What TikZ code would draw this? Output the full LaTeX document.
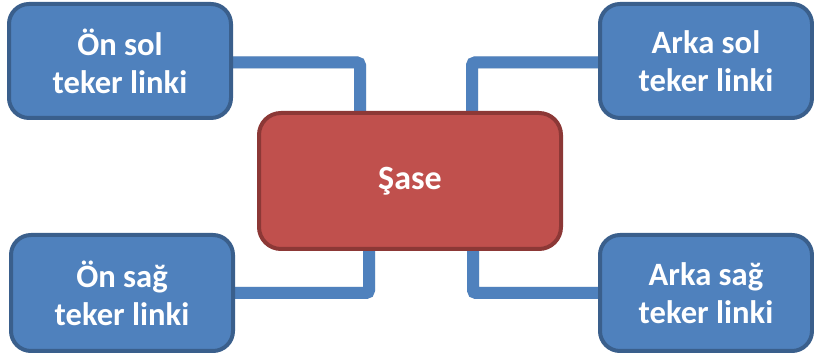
\documentclass[tikz,border=0pt]{standalone}
\usepackage{fontspec}
\setmainfont{Carlito}
\usetikzlibrary{backgrounds}
\definecolor{bfill}{HTML}{4F81BD}
\definecolor{bdraw}{HTML}{3A5F8C}
\definecolor{rfill}{HTML}{C0504D}
\definecolor{rdraw}{HTML}{8C3836}
\tikzset{
  wheel/.style={draw=bdraw, fill=bfill, line width=2pt, rounded corners=10pt,
    text=white, font=\bfseries\fontsize{16.3}{19}\selectfont, align=center, inner sep=0pt},
  chassisbox/.style={draw=rdraw, fill=rfill, line width=2pt, rounded corners=11pt,
    text=white, font=\bfseries\fontsize{17}{20}\selectfont, align=center, inner sep=0pt},
  conn/.style={draw=bfill, line width=6pt, rounded corners=1.5pt},
  connshadow/.style={draw=black!25, line width=6pt, rounded corners=1.5pt, opacity=0.5}
}
\begin{document}
\begin{tikzpicture}[x=0.5pt, y=-0.5pt]
\useasboundingbox (0,0) rectangle (814,356);
\node[wheel, minimum width=111pt, minimum height=57pt] (tl) at (120,61) {Ön sol\\teker linki};
\node[wheel, minimum width=106pt, minimum height=57pt] (tr) at (706,61) {Arka sol\\teker linki};
\node[wheel, minimum width=111pt, minimum height=58pt] (bl) at (122,293) {Ön sağ\\teker linki};
\node[wheel, minimum width=106pt, minimum height=58pt] (br) at (706,293) {Arka sağ\\teker linki};
\node[chassisbox, minimum width=151pt, minimum height=68pt] (ch) at (410,181) {Şase};
\begin{pgfonlayer}{background}
\begin{scope}[xshift=1pt, yshift=-1.2pt]
\draw[connshadow] ([yshift=-0.75pt]tl.east) -| ([xshift=-25pt]ch.north);
\draw[connshadow] ([yshift=-0.75pt]tr.west) -| ([xshift=31pt]ch.north);
\draw[connshadow] ([xshift=-20.5pt]ch.south) |- (bl.east);
\draw[connshadow] ([xshift=31.5pt]ch.south) |- (br.west);
\end{scope}
\draw[conn] ([yshift=-0.75pt]tl.east) -| ([xshift=-25pt]ch.north);
\draw[conn] ([yshift=-0.75pt]tr.west) -| ([xshift=31pt]ch.north);
\draw[conn] ([xshift=-20.5pt]ch.south) |- (bl.east);
\draw[conn] ([xshift=31.5pt]ch.south) |- (br.west);
\end{pgfonlayer}
\end{tikzpicture}
\end{document}
